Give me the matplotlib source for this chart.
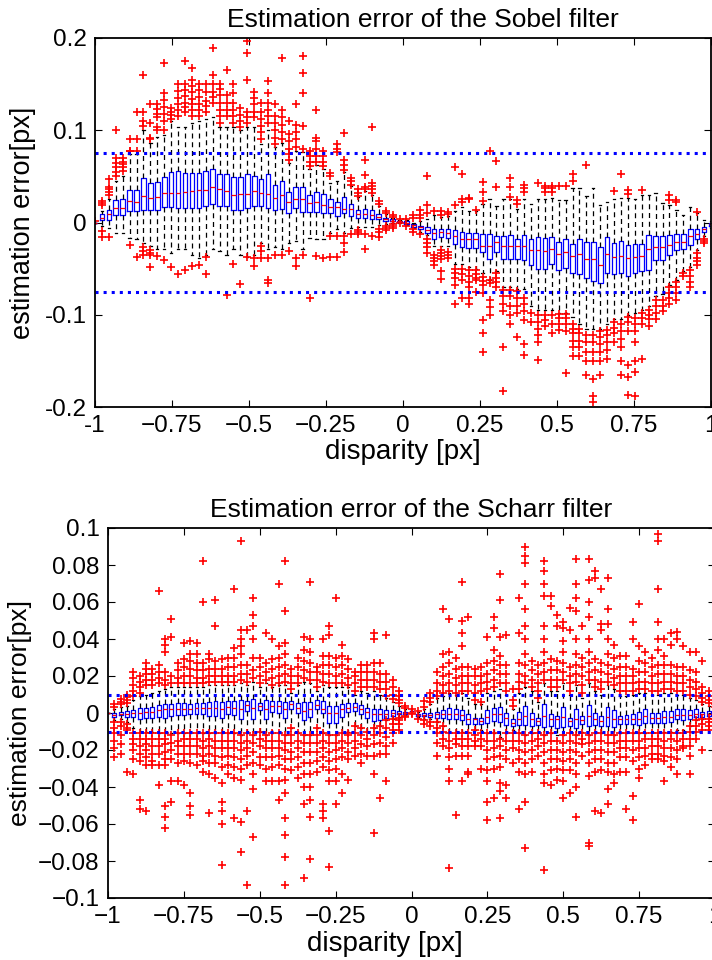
import numpy as np
import matplotlib
matplotlib.use('Agg')
import matplotlib.pyplot as plt

plt.rcParams['font.family'] = ['Liberation Sans', 'DejaVu Sans']

# ---------------- Sobel (values in 1e-3 px) ----------------
sob_med = [0, 5, 8.7, 16, 16, 23, 22, 29, 27, 28, 32.5, 32.5, 32.5, 33, 34, 35, 35, 39, 36, 34,
           30, 31, 31, 34, 32, 31, 27, 30, 22, 26, 25, 20.6, 22, 19.5, 17, 17, 15, 14.8, 8.7, 8.7,
           7.6, 5.8, 4, 2, 1.4, 0, -3, -5, -7.8, -11.7, -10.7, -11.7, -14.6, -18, -18, -18, -25.5, -25, -21.5, -25.5,
           -25.5, -26, -26, -30, -30, -31, -29, -34, -32.3, -36.3, -34.5, -39.5, -40, -45.7, -34.5, -37.8, -36.3, -39, -37, -36,
           -28.8, -27, -27, -24.8, -21, -20.8, -14.6, -12, -7.4, -2]
sob_q1 = [0, 2.5, 3, 7.6, 7.6, 12, 12, 14, 14, 14, 17, 17, 16, 16, 16, 16, 18, 20, 18, 18,
          14, 14, 15.5, 18, 18, 16, 14, 15, 10.5, 16, 11.6, 11.6, 11.6, 9.8, 10.5, 6.9, 9.8, 6.9, 5, 4.7,
          3.3, 3.3, 2, 1.4, 1, -1.6, -4.5, -7, -11.7, -17.5, -15.4, -17, -23.3, -27, -28, -27.7, -32, -39.6, -32.3, -40,
          -40, -39.6, -41, -46, -50, -50, -45, -51.5, -49, -54.5, -55.5, -60.5, -63.5, -66, -55, -56, -55, -57.8, -55, -52.4,
          -51, -40.7, -40.7, -35.7, -30, -29, -24.9, -17.7, -10.3, -4]
sob_q3 = [0, 8.7, 14, 24, 26, 35, 35, 48, 43, 44, 49, 55, 56, 54, 54, 54, 56, 58, 53, 53,
          49, 49, 53, 50, 47, 53, 41, 45, 33, 39, 39, 30, 33, 31, 25.7, 22.4, 27.5, 20, 13.4, 14.8,
          13.4, 8.7, 5, 3.3, 2, 2, -2, -3.4, -5, -6.7, -6.7, -7.4, -8.1, -10.6, -11, -11.7, -12.8, -12.8, -14.6, -14.6,
          -14, -17.5, -14, -18, -15.5, -17, -15.5, -21, -18.4, -23.7, -18.4, -21, -21.5, -27, -16, -22.6, -20, -24.5, -23.3, -23.3,
          -14, -15, -14.5, -14, -13, -12.6, -7.4, -7, -5.2, 0]
sob_lo = [0, -4, -6, -11, -11, -17, -18, -22, -25, -29, -29, -33, -29, -29, -35, -38, -35, -29, -31, -35,
          -29, -35, -37, -35, -22, -29, -27, -29, -22, -20, -29, -17, -18, -18, -11, -7, -11, -6, -5, -5,
          -5, -3, -2, -1, 0, -3, -6, -10, -14, -25, -25, -25, -45, -45, -48, -50, -55, -62, -53, -70,
          -70, -72, -72, -90, -95, -95, -95, -98, -98, -102, -110, -115, -115, -115, -110, -105, -105, -100, -98, -95,
          -90, -80, -78, -68, -62, -53, -48, -30, -15, -6]
sob_hi = [0, 13, 25, 45, 50, 74, 74, 100, 86, 93, 95, 110, 104, 104, 108, 110, 112, 114, 104, 104,
          104, 100, 104, 104, 85, 100, 82, 86, 65, 78, 76, 58, 62, 58, 43, 45, 55, 40, 28, 34,
          30, 18, 9, 5, 3, 3, 0, 2, 4, 8, 6, 7, 12, 17, 13, 12, 20, 25, 18, 25,
          25, 15, 25, 20, 25, 25, 27, 24, 24, 37, 37, 29, 37, 19, 22, 25, 27, 27, 26, 30,
          30, 32, 21, 19, 14, 8, 17, 10, 3, 2]
sob_out = [
    [2], [19, 21, 23, -9, -16], [30, 33, 36, 38, 47, -16], [50, 55, 60, 65, 70, 100],
    [56, 60, 63, 66, 70], [77, 78, 90, -24], [78, 90, 120, -37],
    [105, 110, 120, 160, -27, -31, -35], [90, 92, 108, 128, -30, -33, -35, -48],
    [100, 104, 114, 118, 123, 128, -36], [100, 110, 118, 125, 133, 140, 173, -41],
    [112, 116, 120, 124, -48], [115, 122, 128, 135, 143, 150, -56],
    [120, 125, 130, 137, 144, 150, 175, -51], [115, 122, 128, 134, 141, 148, 155, 168, -47],
    [115, 122, 128, 136, 144, 150, -46], [120, 126, 132, 142, 150, -37, -56],
    [130, 136, 142, 150, 160, 189], [108, 115, 122, 130, 138, 145, 150],
    [115, 122, 130, 138, 165, -79], [108, 115, 122, 130, 140, 150, -45],
    [104, 110, 116, 124, -67], [108, 114, 120, 155, 184, 197, -37],
    [114, 120, 128, 135, 142, -38, -47], [90, 98, 105, 112, 120, 130, -26, -31, -38],
    [108, 115, 122, 130, 140, 153, -39, -62, -66], [85, 92, 100, 108, 115, 128, -35],
    [90, 98, 106, 114, 122, 178, -35], [68, 74, 80, 88, 96, 110, -31],
    [82, 90, 98, 106, 128, -38, -47], [80, 105, 140, 162, 180, -35],
    [61, 66, 72, 78, -82], [66, 72, 80, 88, 92, 122, -36], [61, 66, 72, 77, -39],
    [50, 54, -15, -37], [76, 80, 85, -15, -37], [57, 62, 68, 97, -15, -22, -32],
    [41, 45, 48, -12], [29, 32, 36, -8, -10, -13], [36, 39, 52, 68, -13, -29],
    [32, 36, 40, 43, 104, -15], [20, 23, -7, -10, -16], [10, 12, -4, -6, -8],
    [6, 8, -2, -4, -6], [4, -0.5], [4, -4], [5, 8, -7, -10], [5, 8, 14, -12],
    [10, 19, 50, -18, -22, -27, -33], [12, -35, -38, -42, -46],
    [8, 12, -30, -33, -36, -40, -53, -61], [9, 11, -32, -35, -39],
    [19, 60, -50, -55, -60, -68, -88], [22, 25, 53, -50, -56, -62, -82],
    [25, 27, -52, -58, -64, -70, -82, -88], [14, -52, -56, -60, -62, -75],
    [23, 33, 44, -59, -63, -68, -76, -106, -120, -140], [78, -62, -66, -84, -92, -100],
    [39, 67, -55, -60, -65, -70], [-73, -80, -88, -96, -135, -183],
    [28, 38, 48, -73, -80, -90, -100, -110], [20, 24, -74, -82, -90, -98, -124],
    [33, 37, 41, -82, -88, -96, -106, -132, -144], [-98, -108],
    [43, -100, -108, -115, -122, -129, -149], [33, 37, 40, -100, -106, -112],
    [33, 37, 40, -100, -110, -120], [40, -99, -104, -110, -116],
    [40, -99, -104, -110, -118, -163], [45, 53, -110, -115, -120, -128, -135, -145],
    [-115, -120, -128, -135, -145], [62, -122, -130, -140, -150, -165],
    [-122, -130, -140, -150, -170, -188, -195], [-118, -124, -132, -140, -150, -165],
    [-116, -122, -130, -138, -148], [34, -108, -114, -120, -130],
    [53, -110, -118, -126, -135, -150, -165], [31, 35, -102, -108, -118, -155, -168, -187],
    [-104, -110, -118, -130, -150, -162, -188], [35, -98, -104, -110, -148],
    [-95, -100, -105, -112], [-84, -90, -98, -105], [-84, -90, -96],
    [24, 30, -70, -76, -82, -88], [22, 24, -65, -70, -76, -84], [-55, -58],
    [-52, -58, -64, -70], [11, -33, -38, -42, -46], [-18, -20, -22.6], []]

# ---------------- Scharr (values in 1e-3 px) ----------------
sch_med = [0, -1, -0.4, -0.4, 0.2, 0.2, 0.5, 0.5, 1.4, 2, 2, 2.2, 2.3, 2.3, 2.5, 2.9, 2.9, 2.9, 2.3, 3.2,
           2.9, 2.3, 4.1, 2.9, 3.8, 2, 3.8, 3.8, 2, 4.7, 2.9, 1.1, 2, 4.1, 2.3, 0.2, 0.2, 2, 2.9, 3.2,
           2.3, 0.5, -0.7, -0.7, -0.7, -0.2, 0.2, 0.2, 1, -1, -1, -1, -0.7, -0.7, -0.7, -0.7, -1, -3, -3.4, -4.3,
           -2.2, -0.7, -0.7, -2.5, -5.2, -3.4, -1.6, -3.4, -4.3, -1.6, -3.4, -3.4, -2.2, -4.3, -3, -4, -1.6, -3.4, -4.3, -2.2,
           -3.4, -3.4, -3.4, -3.4, -3, -1.6, -2.5, -2.5, -2.2, -2.2, -1.3, -1.3, -1, -0.7, -0.7, -0.4, -0.2]
sch_q1 = [0, -2, -1.3, -2, -2, -3, -2.5, -2.5, -2, -2.5, -1.6, -1.3, -1.3, -0.7, -0.4, -0.7, -1.6, -1.6, -2.5, -0.7,
          -1.3, -3, 1.1, -3, 1.4, -3.4, 0.5, -0.2, -2.5, 2, -0.2, -4, -2, 2.3, -0.2, -5.2, -5.2, -2.2, 0.5, 1.1,
          -0.7, -2.5, -4.3, -4, -2.5, -1.6, -0.7, -0.4, 1, -1.5, -1.7, -2, -2.5, -2.5, -3.4, -3, -3.8, -5.8, -6.1, -6.1,
          -5.6, -4.3, -4.9, -6.7, -7, -6.7, -6.7, -7, -6.7, -7.6, -7, -7.9, -7.6, -7, -7.9, -6.1, -7, -6.7, -7, -7,
          -7.4, -6.1, -6.1, -6.1, -6.3, -5.6, -5.2, -5.2, -5.2, -4.9, -3.4, -3.8, -3.4, -2, -2, -1.6, -1]
sch_q3 = [0, 0, 0.5, 1, 1.6, 2.9, 2.9, 3.2, 4.1, 4.7, 4.7, 5.2, 5.2, 5, 5.2, 5.6, 6, 6.5, 6, 6.5,
          6.5, 7, 6.5, 7.7, 5.6, 7, 6.3, 6.3, 6, 6.5, 5.6, 6, 6, 6.8, 6.3, 3.8, 3.8, 5, 5.6, 5.6,
          4.3, 2.9, 2.3, 2, 1.4, 1.4, 1, 0.7, 1, -0.5, 0, -0.2, 0.5, 1.6, 2.9, 2.3, 1.6, -0.7, -2.5, -2.5,
          1.6, 2.9, 3.4, -0.2, -3.1, 0.7, 3.8, 0.2, -2.5, 4.7, -0.7, -1.6, 3.2, -2.5, 2.3, -1.6, 4.1, 0.2, -1.6, 3.2,
          1.4, -1.6, -0.9, -0.7, 0.5, 2, -0.2, -0.2, 1.1, 1.1, 2, 2, 1.6, 2, 0.7, 1, 0.5]
sch_lo = [0, -4, -3, -5, -8, -10, -10, -10, -11, -11, -11, -11, -11, -11, -11, -11, -11, -11, -11, -11,
          -11, -12, -11, -12, -10, -12, -11, -11, -12, -8, -11, -12, -12, -8, -11, -12, -12, -11, -10, -7,
          -8, -10, -8, -7, -4, -3, -2, -1, 1, -2, -3, -3, -5, -7, -10, -10, -10, -10, -9, -9,
          -11, -11, -13, -11, -9, -11, -12, -11, -10, -12, -11, -12, -12, -11, -12, -10, -12, -11, -11, -12,
          -12, -11, -11, -11, -11, -11, -10, -10, -10, -10, -9, -9, -7, -4, -3, -2.5, -2]
sch_hi = [0, 2, 3, 4, 7, 9, 10, 11, 12, 13, 14, 14, 14, 14, 14, 14, 15, 15, 15, 15,
          15, 16, 15, 17, 14, 16, 14, 15, 15, 11, 15, 17, 16, 12, 15, 14, 14, 14, 14, 10,
          12, 11, 12, 10, 8, 6, 4, 2, 1, 0.5, 2, 5, 8, 9, 11, 10, 11, 8, 5, 5,
          11, 12, 13, 10, 2, 11, 14, 12, 6, 16, 12, 12, 16, 10, 15, 8, 16, 12, 10, 15,
          13, 9, 9, 10, 11, 11, 10, 10, 11, 11, 10, 10, 8, 7, 5, 4, 2]
sch_out = [
    [], [5, 3, -5, -8, -11, -15, -19, -24], [5, 6, 7.5, -5, -7, -12, -17, -22],
    [5.5, 7, 8.5, 10, -6, -8, -9, -32], [9, 12, 15, 19, 22, -11, -14, -17, -20, -25, -33],
    [11, 14, 17, 20, -11, -14, -18, -22, -26, -47, -52],
    [15, 18, 21, 24, 27, -11, -14, -17, -20, -24, -28, -53],
    [15, 18, 21, 24, -11, -14, -18, -22, -26, -28],
    [16, 19, 22, 26, 66, -11, -14, -18, -22, -28, -39],
    [15, 18, 22, 33, 37, 40, -11, -14, -17, -21, -25, -28, -50, -56, -62],
    [16, 20, 41, 51, -12, -16, -20, -25, -37, -48],
    [16, 19, 23, 27, -11, -15, -18, -22, -27, -37],
    [16, 20, 25, 29, 38, -11, -14, -18, -22, -26, -39],
    [16, 20, 24, 28, 32, 39, -11, -14, -18, -22, -27, -43, -50, -55],
    [16, 19, 23, 27, 32, 38, -11, -14, -18, -22, -28],
    [16, 19, 23, 27, 60, 82, -11, -15, -19, -23, -26, -32],
    [17, 20, 24, 29, 32, -11, -14, -18, -22, -27, -33, -54],
    [17, 20, 24, 28, 47, 61, -11, -15, -19, -23, -27, -35],
    [17, 20, 24, 29, -11, -15, -19, -24, -29, -38, -48, -53, -60, -82],
    [17, 20, 25, 30, -11, -15, -19, -23, -28, -33],
    [17, 20, 25, 30, 35, 67, -11, -15, -19, -24, -29, -35, -57],
    [18, 21, 26, 32, 36, 40, 45, 93, -12, -16, -20, -25, -30, -36, -59, -75],
    [17, 21, 26, 45, -11, -15, -19, -23, -28, -53, -93],
    [19, 23, 30, 40, 47, 53, 62, -12, -16, -21, -27, -33, -41, -67],
    [16, 20, 25, 30, -10, -14, -18, -24, -28],
    [18, 22, 27, 43, -12, -15, -19, -24, -30, -37],
    [15, 19, 24, 29, 40, -11, -15, -19, -24, -29, -37],
    [16, 20, 25, 30, 36, 70, -11, -15, -19, -23, -28, -37, -47],
    [17, 21, 26, 32, 38, 55, 82, -12, -16, -20, -25, -30, -36, -43, -57, -66, -78, -93],
    [13, 16, 20, 24, -8, -12, -16, -21, -25, -31],
    [16, 20, 25, 30, -11, -15, -19, -24, -29, -35],
    [19, 23, 28, 34, 41, -12, -16, -21, -27, -33, -40, -49, -89],
    [18, 22, 27, 33, 40, 71, -12, -16, -21, -27, -33, -40, -47, -56, -79],
    [14, 18, 22, 25, -8, -12, -16, -21, -26, -32],
    [17, 21, 26, 31, 40, -11, -15, -19, -24, -29, -49, -53, -57],
    [16, 21, 26, 31, 42, 47, -12, -16, -21, -26, -31, -37, -64, -83],
    [16, 20, 25, 30, 62, -12, -16, -20, -25, -30, -37, -49],
    [16, 21, 26, 31, 37, -11, -15, -19, -24, -33, -43],
    [15, 19, 24, 29, -11, -12, -16, -21, -25, -36],
    [12, 16, 20, 22, -7, -11, -15, -19, -23],
    [14, 18, 22, 26, -8, -12, -17, -22, -27],
    [14, 18, 22, 26, -10, -14, -18, -23],
    [14, 18, 22, 27, 40, 43, -8, -12, -17, -23, -33, -65],
    [13, 17, 21, 27, -7, -11, -16, -22, -46],
    [9, 13, 17, 21, 42, -4, -8, -13, -18, -22, -37],
    [7.5, 10, 14, 18, -3.5, -6, -9, -11, -16],
    [5.5, 7, 9, 12, -2.5, -4, -6, -9], [2.5, 4, -1.5, -2], [2, 0, -0.7],
    [1, -3], [3, 6.5, -4, -6], [6, 8, 11, -5, -7],
    [9, 12, 16, 22, -5, -8, -11, -16, -23],
    [11, 15, 20, 25, 32, 56, -7, -10, -14, -18],
    [12, 16, 21, 27, 33, 51, -11, -15, -19, -24, -30, -37, -84],
    [11, 15, 19, 24, 30, -11, -14, -17, -23, -55],
    [12, 16, 20, 25, 36, 43, 50, 71, -11, -14, -18, -23, -37],
    [12, 16, 20, 25, 52, -11, -14, -18, -23, -32, -33],
    [7, 11, 15, 20, 24, -9, -12, -15, -18],
    [6, 12, 16, 20, 25, -11, -14, -18, -30],
    [13, 17, 21, 27, 41, -11, -15, -20, -25, -31, -37, -48, -58],
    [14, 18, 23, 28, 34, 46, 52, -11, -15, -19, -24, -30, -46],
    [16, 21, 26, 31, 41, 61, 75, -14, -18, -23, -29, -38, -42, -57],
    [12, 16, 21, 26, 42, -11, -15, -20, -25, -39, -46],
    [4, 7, 13, -11, -15, -19, -27],
    [13, 17, 21, 27, 43, 62, -11, -15, -20, -25, -32, -52],
    [16, 20, 26, 32, 40, 47, 56, 70, 81, 85, 90, -12, -16, -21, -27, -33, -48, -73],
    [14, 18, 23, 28, -11, -15, -20, -25, -32],
    [8, 12, 16, 21, 26, -11, -14, -18, -23],
    [18, 22, 27, 33, 40, 47, 63, 70, 77, 82, -12, -16, -21, -27, -33, -38, -85],
    [14, 18, 23, 29, 58, 63, -11, -15, -20, -25, -31, -39],
    [14, 18, 23, 28, 47, 53, -15, -20, -25, -30, -36],
    [18, 22, 27, 33, 39, 46, 49, -12, -16, -21, -26, -31, -37, -46],
    [12, 16, 20, 25, 45, 57, -11, -15, -20, -25, -31, -43],
    [17, 21, 26, 32, 40, 55, 62, 70, 83, -12, -16, -21, -27, -33, -40, -56],
    [11, 15, 20, 25, 30, 47, -11, -14, -17, -23],
    [18, 22, 27, 33, 40, 52, 60, 72, 83, -12, -16, -21, -27, -34, -70, -72],
    [14, 18, 23, 29, 73, 77, -11, -15, -20, -25, -32, -53],
    [13, 17, 22, 27, 45, 48, 67, -11, -15, -20, -25, -31, -54],
    [17, 21, 26, 32, 40, 48, 56, 73, -12, -16, -21, -27, -32, -41, -49],
    [15, 19, 24, 30, 37, -12, -16, -21, -27, -33, -38],
    [12, 16, 20, 25, 31, -11, -15, -19, -24, -32],
    [12, 16, 20, 25, 31, -11, -15, -19, -24, -32, -52],
    [12, 16, 20, 24, 40, 49, -11, -15, -20, -26, -45, -58],
    [13, 17, 22, 28, 36, 59, -11, -15, -19, -24, -30, -35],
    [13, 17, 22, 27, 33, -11, -14, -19, -23, -28],
    [12, 16, 20, 25, 30, -11, -14, -18, -22, -25],
    [12, 16, 21, 26, 34, 40, 49, 67, 93, 97, -11, -14, -18, -22, -25],
    [13, 17, 21, 26, 31, 40, -11, -15, -19, -23, -26, -37],
    [13, 17, 21, 26, 37, 43, -11, -14, -19, -24, -29],
    [12, 16, 20, 25, 40, 44, -11, -15, -20, -25, -33],
    [12, 16, 20, 25, 36, -11, -14, -18, -19],
    [10, 14, 18, 23, 33, -7, -10, -14, -18, -23, -33],
    [9, 13, 17, 22, 33, -4, -7, -10, -14],
    [6, 8, 11, 14, 28, -3.5, -6, -9, -20],
    [5.5, 7, 9, 12, -3, -5, -7, -9], [3, 5, -3, -5]]

sob_pos = np.linspace(-1, 1, len(sob_med))
sch_pos = np.linspace(-1, 1, len(sch_med))


def make_stats(med, q1, q3, lo, hi, out):
    s = []
    for i in range(len(med)):
        s.append(dict(med=med[i] / 1000, q1=q1[i] / 1000, q3=q3[i] / 1000,
                      whislo=lo[i] / 1000, whishi=hi[i] / 1000,
                      fliers=np.array(out[i]) / 1000))
    return s


def draw(ax, stats, pos, w):
    ax.bxp(stats, positions=pos, widths=w, capwidths=w * 0.5,
           boxprops=dict(color='blue', linewidth=0.9),
           medianprops=dict(color='red', linewidth=0.9),
           whiskerprops=dict(color='black', linestyle=(0, (4, 3)), linewidth=0.9),
           capprops=dict(color='black', linewidth=0.9),
           flierprops=dict(marker='+', markeredgecolor='red', markersize=6,
                           markeredgewidth=1.2, linestyle='none'),
           manage_ticks=False)


def style(ax):
    ax.tick_params(direction='in', top=True, right=True, length=5, width=0.8,
                   labelsize=17.5, pad=6)
    for sp in ax.spines.values():
        sp.set_linewidth(1.3)


fig = plt.figure(figsize=(7.12, 9.6), dpi=100)

# Sobel
ax1 = fig.add_axes([95 / 712, 1 - 407 / 960, 616 / 712, 369 / 960])
draw(ax1, make_stats(sob_med, sob_q1, sob_q3, sob_lo, sob_hi, sob_out), sob_pos, 0.015)
ax1.axhline(0.075, color='blue', linestyle=':', linewidth=2.2)
ax1.axhline(-0.075, color='blue', linestyle=':', linewidth=2.2)
ax1.set_xlim(-1, 1)
ax1.set_ylim(-0.2, 0.2)
ax1.set_xticks([-1, -0.75, -0.5, -0.25, 0, 0.25, 0.5, 0.75, 1])
ax1.set_xticklabels(['-1', '\u22120.75', '\u22120.5', '\u22120.25', '0', '0.25', '0.5', '0.75', '1'])
ax1.set_yticks([-0.2, -0.1, 0, 0.1, 0.2])
ax1.set_yticklabels(['-0.2', '-0.1', '0', '0.1', '0.2'])
style(ax1)
ax1.set_title('Estimation error of the Sobel filter', fontsize=19, x=0.532, pad=8)
ax1.set_xlabel('disparity [px]', fontsize=20, labelpad=1)
ax1.set_ylabel('estimation error[px]', fontsize=19.5, labelpad=6)

# Scharr
ax2 = fig.add_axes([108 / 712, 1 - 898 / 960, 607 / 712, 370 / 960])
draw(ax2, make_stats(sch_med, sch_q1, sch_q3, sch_lo, sch_hi, sch_out), sch_pos, 0.013)
ax2.axhline(0.01, color='blue', linestyle=':', linewidth=2.2)
ax2.axhline(-0.01, color='blue', linestyle=':', linewidth=2.2)
ax2.set_xlim(-1, 1)
ax2.set_ylim(-0.1, 0.1)
ax2.set_xticks([-1, -0.75, -0.5, -0.25, 0, 0.25, 0.5, 0.75, 1])
ax2.set_xticklabels(['\u22121', '\u22120.75', '\u22120.5', '\u22120.25', '0', '0.25', '0.5', '0.75', '1'])
yt = [-0.1, -0.08, -0.06, -0.04, -0.02, 0, 0.02, 0.04, 0.06, 0.08, 0.1]
ax2.set_yticks(yt)
ax2.set_yticklabels(['\u22120.1', '\u22120.08', '\u22120.06', '\u22120.04', '\u22120.02', '0',
                     '0.02', '0.04', '0.06', '0.08', '0.1'])
style(ax2)
ax2.set_title('Estimation error of the Scharr filter', fontsize=19, pad=8)
ax2.set_xlabel('disparity [px]', fontsize=20, labelpad=1)
ax2.xaxis.set_label_coords(0.456, -0.088)
ax2.set_ylabel('estimation error[px]', fontsize=19, labelpad=4)

fig.savefig('out.png', dpi=100)
